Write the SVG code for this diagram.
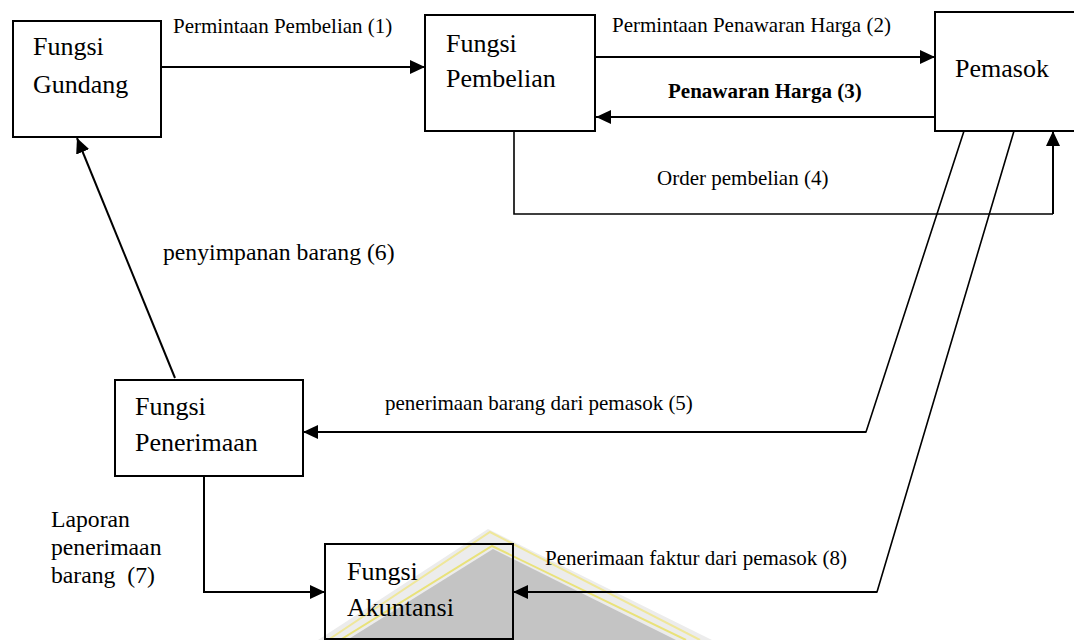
<svg xmlns="http://www.w3.org/2000/svg" width="1074" height="640" viewBox="0 0 1074 640">
<style>
.box{fill:none;stroke:#000;stroke-width:2}
text{font-family:'Liberation Serif','Times New Roman','DejaVu Serif',serif;fill:#000}
.nt{font-size:26px}
.lb{font-size:21px}
.lg{font-size:23.7px}
.bd{font-weight:bold}
.cn{fill:none;stroke:#000;stroke-width:2}
.thin{fill:none;stroke:#000;stroke-width:1.6}
</style>
<defs>
<marker id="ah" viewBox="0 0 15 14" refX="15" refY="7" markerWidth="15" markerHeight="14" markerUnits="userSpaceOnUse" orient="auto">
<path d="M0,0 L15,7 L0,14 z" fill="#000"/>
</marker>
</defs>
<rect width="1074" height="640" fill="#fff"/>
<g id="watermark">
<polygon points="488,529 318,640 712,640" fill="#ececec"/>
<polyline points="328,640 490,532 700,640" fill="none" stroke="#efe79a" stroke-width="2"/>
<polygon points="493,549 347,640 676,640" fill="#c4c4c4"/>
<polyline points="340,640 492,546 686,640" fill="none" stroke="#e9e27a" stroke-width="2"/>
</g>
<g id="connectors">
<line class="cn" x1="162" y1="67" x2="425" y2="67" marker-end="url(#ah)"/>
<line class="cn" x1="596" y1="57" x2="935" y2="57" marker-end="url(#ah)"/>
<line class="cn" x1="935" y1="117" x2="596" y2="117" marker-end="url(#ah)"/>
<polyline class="thin" points="514,131 514,214 1053,214"/>
<line class="cn" x1="1053" y1="214" x2="1053" y2="131" marker-end="url(#ah)"/>
<polyline class="thin" points="964,131 866,432 620,432"/>
<line class="cn" x1="866" y1="432" x2="303" y2="432" marker-end="url(#ah)"/>
<line class="cn" x1="175" y1="378" x2="77" y2="138" marker-end="url(#ah)"/>
<polyline class="cn" points="204,476 204,592 325,592" marker-end="url(#ah)"/>
<polyline class="thin" points="1014,131 877,592 700,592"/>
<line class="cn" x1="877" y1="592" x2="513" y2="592" marker-end="url(#ah)"/>
</g>
<g id="labels">
<text class="lb" x="173" y="33">Permintaan Pembelian (1)</text>
<text class="lb" x="612" y="32">Permintaan Penawaran Harga (2)</text>
<text class="lb bd" x="668" y="98">Penawaran Harga (3)</text>
<text class="lb" x="657" y="185">Order pembelian (4)</text>
<text class="lb" x="385" y="410">penerimaan barang dari pemasok (5)</text>
<text class="lg" x="163" y="260">penyimpanan barang (6)</text>
<text class="lg" x="51" y="527">Laporan</text>
<text class="lg" x="51" y="555">penerimaan</text>
<text class="lg" x="51" y="583" xml:space="preserve">barang  (7)</text>
<text class="lb" x="545" y="565">Penerimaan faktur dari pemasok (8)</text>
</g>
<g id="gudang">
<rect class="box" x="13" y="21" width="148" height="116"/>
<text class="nt" x="33" y="55">Fungsi</text>
<text class="nt" x="33" y="93">Gundang</text>
</g>
<g id="pembelian">
<rect class="box" x="425" y="15" width="170" height="116"/>
<text class="nt" x="446" y="52">Fungsi</text>
<text class="nt" x="446" y="87">Pembelian</text>
</g>
<g id="pemasok">
<rect class="box" x="935" y="12" width="150" height="119"/>
<text class="nt" x="955" y="77">Pemasok</text>
</g>
<g id="penerimaan">
<rect class="box" x="115" y="380" width="188" height="96"/>
<text class="nt" x="135" y="415">Fungsi</text>
<text class="nt" x="135" y="451">Penerimaan</text>
</g>
<g id="akuntansi">
<rect class="box" x="325" y="544" width="188" height="95"/>
<text class="nt" x="347" y="580">Fungsi</text>
<text class="nt" x="347" y="616">Akuntansi</text>
</g>
</svg>
